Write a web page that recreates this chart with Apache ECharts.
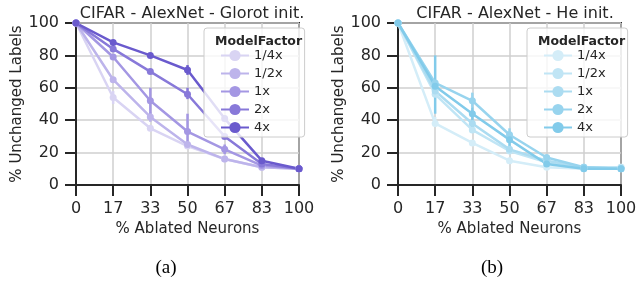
<!DOCTYPE html>
<html lang="en">
<head>
    <meta charset="UTF-8" />
    <title>CIFAR - AlexNet ablation</title>
    <script src="https://cdn.jsdelivr.net/npm/echarts@6/dist/echarts.min.js"></script>
    <style type="text/css">
        html, body { margin: 0; padding: 0; background: #fff; }
        #chart { width: 643px; height: 281px; }
    </style>
</head>
<body>
    <div id="chart"></div>
    <script type="text/javascript">
        // x ticks (% ablated neurons)
        var ablated = ['0', '17', '33', '50', '67', '83', '100'];
        var factors = ['1/4x', '1/2x', '1x', '2x', '4x'];

        // (a) Glorot init.
        var glorot = [
            [100, 54, 35, 24, 16, 11, 10],
            [100, 65, 42, 25, 16, 11, 10],
            [100, 79, 52, 33, 22, 12, 10],
            [100, 84, 70, 56, 30, 13, 10],
            [100, 88, 80, 71, 41, 15, 10]
        ];
        // error bars: [factor index, x index, low, high]
        var glorotErr = [
            [0, 1, 50, 58], [1, 2, 39, 45], [2, 2, 44, 60], [2, 3, 26, 44],
            [3, 3, 53, 60], [4, 3, 68, 74], [2, 4, 19, 25]
        ];

        // (b) He init.
        var he = [
            [100, 38, 26, 15, 11, 10, 11],
            [100, 56, 34, 21, 14, 11, 11],
            [100, 58, 38, 22, 15, 11, 10],
            [100, 63, 52, 31, 17, 11, 10],
            [100, 61, 44, 28, 13, 10, 10]
        ];
        var heErr = [
            [0, 1, 36, 42], [4, 1, 44, 80], [3, 2, 48, 57], [4, 2, 34, 48],
            [3, 3, 27, 35], [4, 3, 24, 32]
        ];

        var purples = ['#d9d4f3', '#bdb4eb', '#a497e3', '#8879d9', '#6a5acd'];
        var blues = ['#d4edf8', '#c0e5f5', '#acdcf1', '#98d4ee', '#82cbea'];

        var chart = echarts.init(document.getElementById('chart'));
        var font = 'DejaVu Sans';
        var ink = '#262626';

        function axesFor(i) {
            var x = {
                type: 'category', gridIndex: i, data: ablated, boundaryGap: false,
                name: '% Ablated Neurons', nameLocation: 'middle', nameGap: 33,
                nameTextStyle: { fontFamily: font, fontSize: 15, color: ink },
                axisLine: { lineStyle: { color: ink, width: 2 } },
                axisTick: { interval: 0, length: 11, lineStyle: { color: ink, width: 2 }, alignWithLabel: true },
                axisLabel: { interval: 0, hideOverlap: false, margin: 16, fontFamily: font, fontSize: 16, color: ink },
                splitLine: { show: true, interval: 0, lineStyle: { color: '#cfcfcf', width: 1.5 } }
            };
            var y = {
                type: 'value', gridIndex: i, min: 0, max: 100, interval: 20,
                name: '% Unchanged Labels', nameLocation: 'middle', nameGap: 44,
                nameTextStyle: { fontFamily: font, fontSize: 15, color: ink },
                axisLine: { show: true, lineStyle: { color: ink, width: 2 } },
                axisTick: { show: true, length: 11, lineStyle: { color: ink, width: 2 } },
                axisLabel: { margin: 17, fontFamily: font, fontSize: 16, color: ink },
                splitLine: { show: true, lineStyle: { color: '#cfcfcf', width: 1.5 } }
            };
            return { x: x, y: y };
        }

        function lineSeries(data, colors, panel, suffix) {
            return data.map(function (vals, k) {
                return {
                    name: factors[k] + suffix, type: 'line',
                    xAxisIndex: panel, yAxisIndex: panel,
                    data: vals, symbol: 'circle', symbolSize: 7,
                    itemStyle: { color: colors[k] },
                    lineStyle: { color: colors[k], width: 2.5 },
                    z: 2, animation: false
                };
            });
        }

        function errSeries(err, colors, panel) {
            return {
                type: 'custom', xAxisIndex: panel, yAxisIndex: panel,
                data: err, silent: true, animation: false, z: 2,
                renderItem: function (params, api) {
                    var k = api.value(0);
                    var a = api.coord([api.value(1), api.value(2)]);
                    var b = api.coord([api.value(1), api.value(3)]);
                    return {
                        type: 'line',
                        shape: { x1: a[0], y1: a[1], x2: b[0], y2: b[1] },
                        style: { stroke: colors[k], lineWidth: 2.5 }
                    };
                },
                encode: { x: 1, y: [2, 3] }
            };
        }

        function legendFor(left, suffix) {
            return {
                left: left, top: 28, orient: 'vertical', z: 20,
                data: factors.map(function (f) { return f + suffix; }),
                formatter: function (n) { return n.replace(suffix, ''); },
                itemWidth: 28, itemHeight: 14, itemGap: 5,
                padding: [21, 22, 3, 16],
                backgroundColor: 'rgba(255,255,255,0.8)',
                borderColor: '#cccccc', borderWidth: 1, borderRadius: 3,
                textStyle: { fontFamily: font, fontSize: 13, color: ink },
                selectedMode: false
            };
        }

        var a0 = axesFor(0), a1 = axesFor(1);

        var option = {
            backgroundColor: '#ffffff',
            animation: false,
            grid: [
                { left: 76, right: 344, top: 23, bottom: 96, show: true, borderColor: ink, borderWidth: 2 },
                { left: 398, right: 22, top: 23, bottom: 96, show: true, borderColor: ink, borderWidth: 2 }
            ],
            title: [
                { text: 'CIFAR - AlexNet - Glorot init.', left: 187, top: 1, textAlign: 'center',
                  textStyle: { fontFamily: font, fontSize: 16, fontWeight: 'normal', color: ink } },
                { text: 'CIFAR - AlexNet - He init.', left: 510, top: 1, textAlign: 'center',
                  textStyle: { fontFamily: font, fontSize: 16, fontWeight: 'normal', color: ink } },
                { text: 'ModelFactor', left: 210, top: 30, z: 30,
                  textStyle: { fontFamily: font, fontSize: 12.5, fontWeight: 'bold', color: ink } },
                { text: 'ModelFactor', left: 533, top: 30, z: 30,
                  textStyle: { fontFamily: font, fontSize: 12.5, fontWeight: 'bold', color: ink } },
                { text: '(a)', left: 161, top: 254, textAlign: 'center',
                  textStyle: { fontFamily: 'Liberation Serif', fontSize: 19, fontWeight: 'normal', color: '#000' } },
                { text: '(b)', left: 487, top: 254, textAlign: 'center',
                  textStyle: { fontFamily: 'Liberation Serif', fontSize: 19, fontWeight: 'normal', color: '#000' } }
            ],
            legend: [legendFor(204, ''), legendFor(527, ' (b)')],
            xAxis: [a0.x, a1.x],
            yAxis: [a0.y, a1.y],
            series: []
                .concat(lineSeries(glorot, purples, 0, ''))
                .concat([errSeries(glorotErr, purples, 0)])
                .concat(lineSeries(he, blues, 1, ' (b)'))
                .concat([errSeries(heErr, blues, 1)])
        };
        chart.setOption(option);
    </script>
</body>
</html>
